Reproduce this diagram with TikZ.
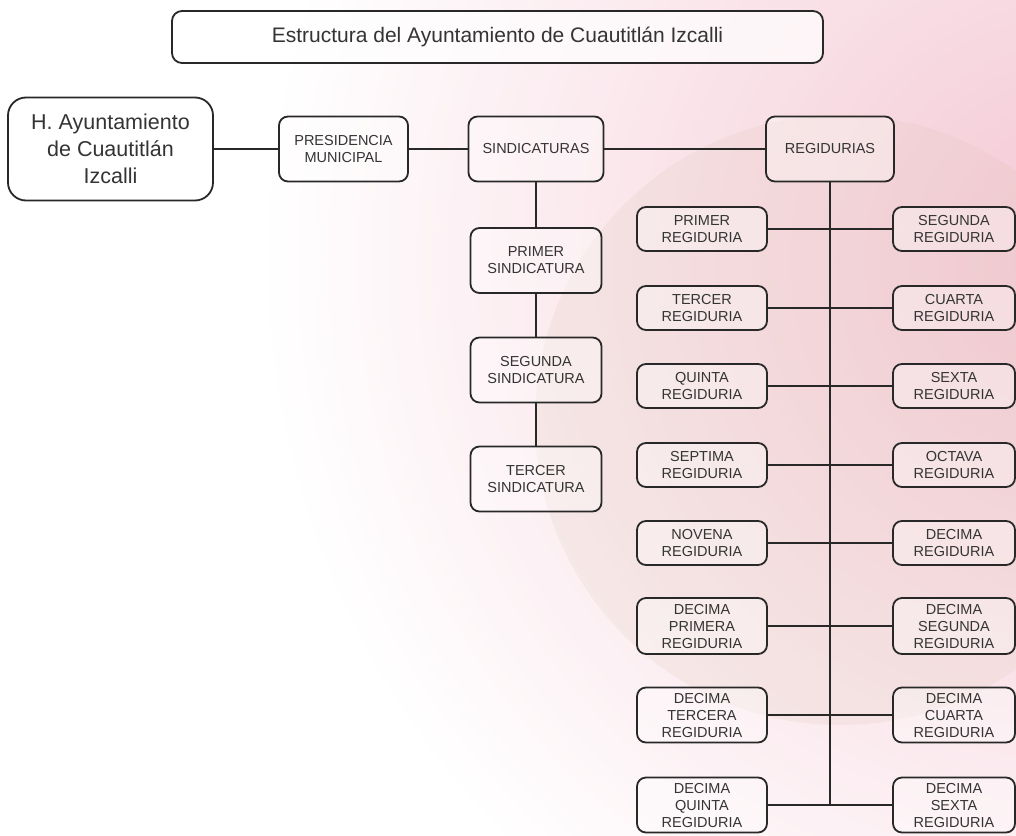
\documentclass[tikz,border=0pt]{standalone}
\usepackage{fontspec}
\setmainfont{Liberation Sans}
\newfontfamily\labfont{Liberation Sans}
\definecolor{boxline}{RGB}{40,40,40}
\definecolor{txt}{RGB}{52,52,52}
\definecolor{pinkbg}{RGB}{244,200,212}
\definecolor{peach}{RGB}{222,196,178}
\tikzset{
  orgbox/.style={draw=boxline, line width=1.8pt, rounded corners=9pt,
    fill=white, fill opacity=0.35, text opacity=1, text=txt, align=center,
    inner sep=0pt, font=\labfont\fontsize{14.5}{17}\selectfont},
  leftreg/.style={orgbox, minimum width=130pt, minimum height=44pt},
  rightreg/.style={orgbox, minimum width=122pt, minimum height=44pt},
  sindbox/.style={orgbox, minimum width=131pt, minimum height=65pt},
  conn/.style={draw=boxline, line width=1.8pt}
}
\begin{document}
\begin{tikzpicture}[x=1pt,y=-1pt]
\useasboundingbox (0,0) rectangle (1016,835);
% background
\begin{scope}
\clip (0,0) rectangle (1016,835);
\fill[white] (0,0) rectangle (1016,835);
\shade[inner color=pinkbg, outer color=white] (1080,260) circle (820pt);
\fill[peach, opacity=0.18] (840,420) circle (305pt);
\end{scope}

% title
\node[orgbox, rounded corners=10pt, fill opacity=0.7, minimum width=651pt, minimum height=52pt,
  font=\labfont\fontsize{21}{25}\selectfont] (title) at (497.5,37) {Estructura del Ayuntamiento de Cuautitlán Izcalli};

% top row
\node[orgbox, rounded corners=18pt, fill opacity=0.7, minimum width=205pt, minimum height=103pt,
  font=\labfont\fontsize{21.5}{27}\selectfont] (hay) at (110.5,149) {H. Ayuntamiento\\de Cuautitlán\\Izcalli};
\node[orgbox, minimum width=129pt, minimum height=65pt] (pres) at (343.5,149) {PRESIDENCIA\\MUNICIPAL};
\node[orgbox, minimum width=135pt, minimum height=65pt] (sind) at (536,149) {SINDICATURAS};
\node[orgbox, minimum width=128pt, minimum height=65pt] (regs) at (830,149) {REGIDURIAS};

% sindicaturas
\node[sindbox] (s1) at (536,260.5) {PRIMER\\SINDICATURA};
\node[sindbox] (s2) at (536,370) {SEGUNDA\\SINDICATURA};
\node[sindbox] (s3) at (536,479) {TERCER\\SINDICATURA};

% regidurias
\node[leftreg] (r1) at (702,229) {PRIMER\\REGIDURIA};
\node[rightreg] (r2) at (954,229) {SEGUNDA\\REGIDURIA};
\node[leftreg] (r3) at (702,308) {TERCER\\REGIDURIA};
\node[rightreg] (r4) at (954,308) {CUARTA\\REGIDURIA};
\node[leftreg] (r5) at (702,386) {QUINTA\\REGIDURIA};
\node[rightreg] (r6) at (954,386) {SEXTA\\REGIDURIA};
\node[leftreg] (r7) at (702,465) {SEPTIMA\\REGIDURIA};
\node[rightreg] (r8) at (954,465) {OCTAVA\\REGIDURIA};
\node[leftreg] (r9) at (702,543) {NOVENA\\REGIDURIA};
\node[rightreg] (r10) at (954,543) {DECIMA\\REGIDURIA};
\node[leftreg, minimum height=56pt] (r11) at (702,626) {DECIMA\\PRIMERA\\REGIDURIA};
\node[rightreg, minimum height=56pt] (r12) at (954,626) {DECIMA\\SEGUNDA\\REGIDURIA};
\node[leftreg, minimum height=55pt] (r13) at (702,715) {DECIMA\\TERCERA\\REGIDURIA};
\node[rightreg, minimum height=55pt] (r14) at (954,715) {DECIMA\\CUARTA\\REGIDURIA};
\node[leftreg, minimum height=55pt] (r15) at (702,805) {DECIMA\\QUINTA\\REGIDURIA};
\node[rightreg, minimum height=55pt] (r16) at (954,805) {DECIMA\\SEXTA\\REGIDURIA};

\coordinate (rend) at (830,805);

% connectors
\draw[conn] (hay.east) -- (pres.west);
\draw[conn] (pres.east) -- (sind.west);
\draw[conn] (sind.east) -- (regs.west);
\draw[conn] (sind.south) -- (s1.north);
\draw[conn] (s1.south) -- (s2.north);
\draw[conn] (s2.south) -- (s3.north);
\draw[conn] (regs.south) -- (rend);
\foreach \a/\b in {r1/r2,r3/r4,r5/r6,r7/r8,r9/r10,r11/r12,r13/r14,r15/r16}
  \draw[conn] (\a.east) -- (\b.west);
\end{tikzpicture}
\end{document}
